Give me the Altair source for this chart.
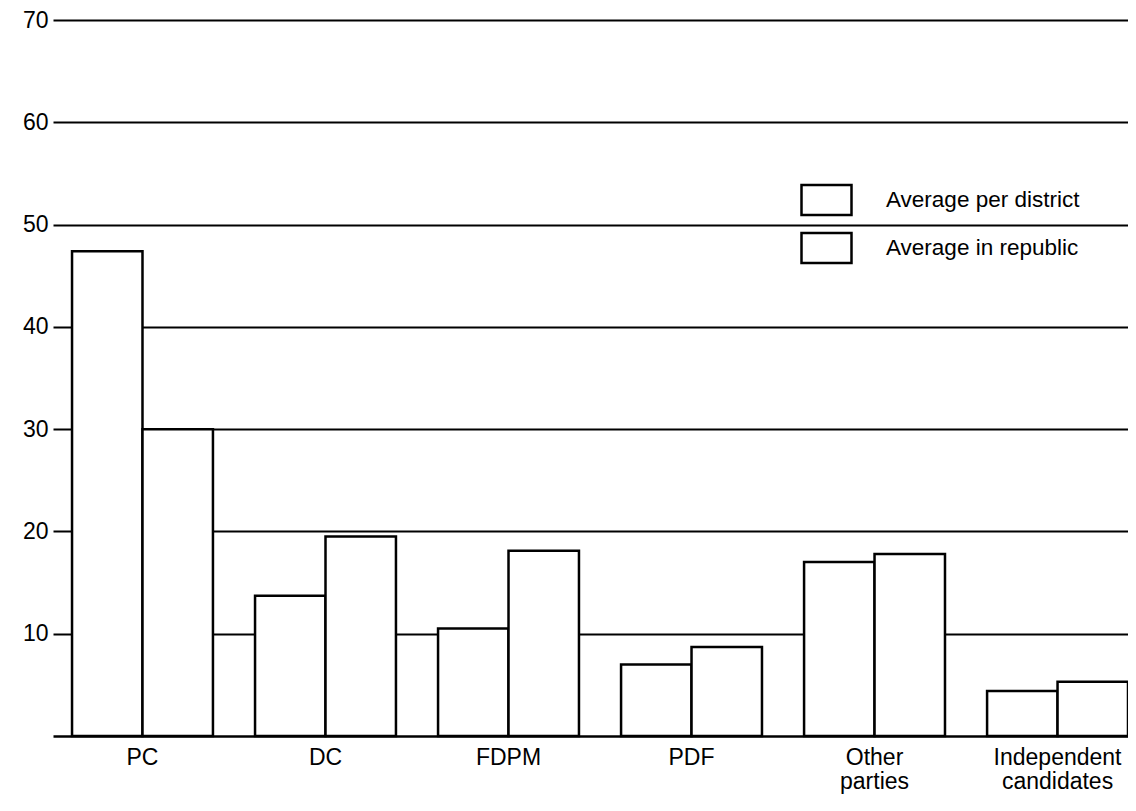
import altair as alt
import pandas as pd

categories = ["PC", "DC", "FDPM", "PDF", "Other parties", "Independent candidates"]
series = ["Average per district", "Average in republic"]
district = [47.4, 13.7, 10.5, 7.0, 17.0, 4.4]
republic = [30.0, 19.5, 18.1, 8.7, 17.8, 5.3]
y_ticks = [10, 20, 30, 40, 50, 60, 70]

rows = []
for c, d, r in zip(categories, district, republic):
    rows.append({"party": c, "series": series[0], "value": d})
    rows.append({"party": c, "series": series[1], "value": r})
df = pd.DataFrame(rows)

FONT = "Liberation Sans, Arial, Helvetica, sans-serif"

chart = alt.Chart(df).mark_bar(
    stroke="black", strokeWidth=2.5, fillOpacity=1, strokeOpacity=1
).encode(
    x=alt.X(
        "party:N",
        sort=categories,
        scale=alt.Scale(paddingInner=0.23, paddingOuter=0.052, align=1),
        axis=alt.Axis(
            title=None, labelAngle=0, domainColor="black", domainWidth=2.5,
            ticks=False, grid=False, labelFontSize=23, labelPadding=10,
            labelFont=FONT, labelExpr="split(datum.label, ' ')",
            labelLineHeight=24, labelColor="black", labelBaseline="top",
        ),
    ),
    xOffset=alt.XOffset("series:N", sort=series,
                        scale=alt.Scale(paddingInner=0, paddingOuter=0)),
    y=alt.Y(
        "value:Q",
        scale=alt.Scale(domain=[0, 70], nice=False),
        axis=alt.Axis(
            title=None, values=y_ticks, grid=True, gridColor="black",
            gridWidth=2, gridOpacity=1, domain=False, ticks=False,
            labelFontSize=23, labelPadding=5, labelColor="black", labelFont=FONT,
        ),
    ),
    fill=alt.Fill(
        "series:N", sort=series,
        scale=alt.Scale(domain=series, range=["white", "white"]),
        legend=alt.Legend(
            title=None, orient="none", legendX=759.5, legendY=166,
            symbolType="M-2,-1.2H2V1.2H-2Z", symbolSize=625,
            symbolStrokeColor="black", symbolStrokeWidth=2.5,
            symbolFillColor="white", symbolOpacity=1,
            labelFontSize=22.5, labelOffset=45.5, rowPadding=8,
            labelLimit=400, labelFont=FONT, labelColor="black", padding=0,
        ),
    ),
).properties(
    width=1075, height=716,
    padding={"left": 45, "top": 12, "right": 0, "bottom": 65},
    autosize=alt.AutoSizeParams(type="none"),
).configure(font=FONT, background="white").configure_view(strokeWidth=0, stroke="transparent")

chart.save("out.html", embed_options={"renderer": "svg", "actions": False})
